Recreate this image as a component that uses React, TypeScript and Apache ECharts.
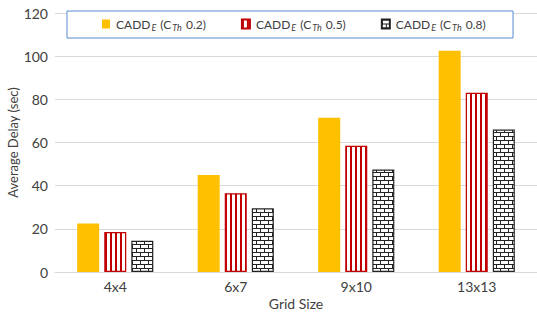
import React, { useEffect, useRef } from "react";
import * as echarts from "echarts";

const categories = ["4x4", "6x7", "9x10", "13x13"];
const seriesNames = ["0.2", "0.5", "0.8"];
const valuesTh02 = [22.5, 45, 71.5, 102.5];
const valuesTh05 = [18.5, 36.5, 58.5, 83];
const valuesTh08 = [14.5, 29.5, 47.5, 66];
const yTicks = { min: 0, max: 120, interval: 20 };

function stripeCanvas() {
  const c = document.createElement("canvas");
  c.width = 5;
  c.height = 4;
  const ctx = c.getContext("2d")!;
  ctx.fillStyle = "#ffffff";
  ctx.fillRect(0, 0, 5, 4);
  ctx.fillStyle = "#c00000";
  ctx.fillRect(0, 0, 2, 4);
  return c;
}

function brickCanvas() {
  const c = document.createElement("canvas");
  c.width = 8;
  c.height = 8;
  const ctx = c.getContext("2d")!;
  ctx.fillStyle = "#ffffff";
  ctx.fillRect(0, 0, 8, 8);
  ctx.fillStyle = "#222222";
  ctx.fillRect(0, 0, 8, 1);
  ctx.fillRect(0, 4, 8, 1);
  ctx.fillRect(0, 0, 1, 4);
  ctx.fillRect(4, 4, 1, 4);
  return c;
}

export default function App() {
  const ref = useRef<HTMLDivElement>(null);
  useEffect(() => {
    if (!ref.current) return;
    const chart = echarts.init(ref.current, null, { renderer: "svg" });
    const sc = stripeCanvas();
    const bc = brickCanvas();
    const stripe: any = { image: sc, repeat: "repeat", imageWidth: 5, imageHeight: 4 };
    const brick: any = { image: bc, repeat: "repeat", imageWidth: 8, imageHeight: 8 };
    const font = "Lato";
    const txt = "#404040";
    const fmt = (name: string) => `CADD{sub|E} (C{sub|Th} ${name})`;
    const rich = {
      sub: { fontSize: 9, fontStyle: "italic", fontFamily: font, color: txt, padding: [7, 1, 0, 1] },
    };
    chart.setOption({
      animation: false,
      textStyle: { fontFamily: font },
      graphic: [
        {
          type: "rect",
          z: 3,
          shape: { x: 67, y: 11, width: 446, height: 27 },
          style: { fill: "#ffffff", stroke: "#5b8bd0", lineWidth: 1 },
        },
      ],
      legend: {
        z: 4,
        left: 97,
        top: 13,
        itemWidth: 8,
        itemHeight: 9,
        itemGap: 35,
        icon: "rect",
        data: seriesNames,
        formatter: fmt,
        textStyle: { fontSize: 12, color: txt, fontFamily: font, rich, padding: [0, 0, 0, 1] },
      },
      grid: { left: 55, right: 0, top: 13, bottom: 41, outerBoundsMode: "none", containLabel: false },
      xAxis: {
        type: "category",
        data: categories,
        name: "Grid Size",
        nameLocation: "middle",
        nameGap: 24,
        nameMoveOverlap: false,
        nameTextStyle: { fontSize: 14, color: txt, fontFamily: font },
        axisLine: { lineStyle: { color: "#d9d9d9" } },
        axisTick: { show: false },
        axisLabel: { fontSize: 14, color: txt, margin: 7 },
      },
      yAxis: {
        type: "value",
        min: yTicks.min,
        max: yTicks.max,
        interval: yTicks.interval,
        name: "Average Delay (sec)",
        nameLocation: "middle",
        nameRotate: 90,
        nameGap: 36,
        nameMoveOverlap: false,
        nameTextStyle: { fontSize: 13, color: txt, fontFamily: font },
        axisLine: { show: false },
        axisTick: { show: false },
        splitLine: { lineStyle: { color: "#d9d9d9" } },
        axisLabel: { fontSize: 14, color: txt, margin: 7 },
      },
      series: [
        {
          type: "bar",
          name: seriesNames[0],
          data: valuesTh02,
          barWidth: 22,
          barGap: "23%",
          barCategoryGap: "37%",
          itemStyle: { color: "#ffc000" },
        },
        {
          type: "bar",
          name: seriesNames[1],
          data: valuesTh05,
          barWidth: 22,
          barGap: "23%",
          itemStyle: { color: stripe, borderColor: "#c00000", borderWidth: 1.2 },
        },
        {
          type: "bar",
          name: seriesNames[2],
          data: valuesTh08,
          barWidth: 22,
          barGap: "23%",
          itemStyle: { color: brick, borderColor: "#222222", borderWidth: 1.2 },
        },
      ],
    });
    return () => chart.dispose();
  }, []);
  return <div ref={ref} style={{ width: 537, height: 313, position: "absolute", left: 0, top: 0 }} />;
}
